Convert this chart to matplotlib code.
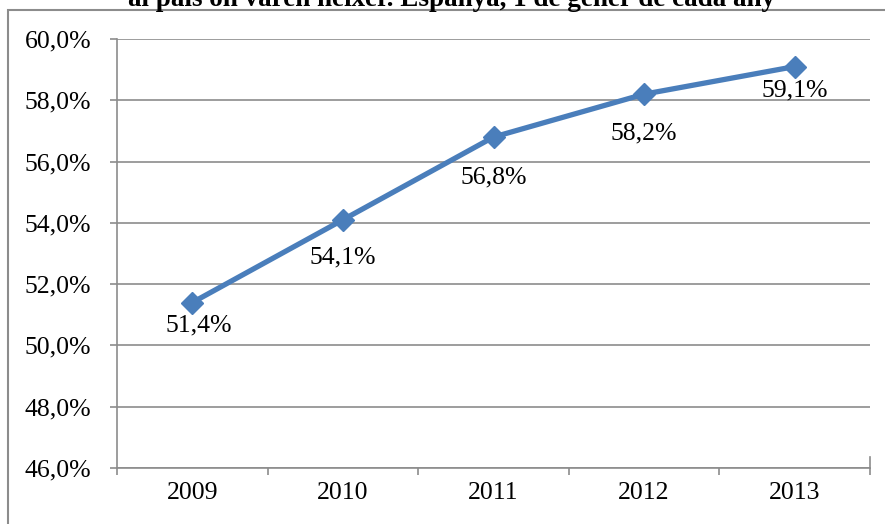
import matplotlib.pyplot as plt
from matplotlib.patches import Rectangle
from matplotlib.ticker import FuncFormatter

years = ['2009', '2010', '2011', '2012', '2013']
values = [51.4, 54.1, 56.8, 58.2, 59.1]
labels = ['51,4%', '54,1%', '56,8%', '58,2%', '59,1%']
title = 'al país on varen néixer. Espanya, 1 de gener de cada any'

# where each data label sits relative to its point (pixels, as placed in the original)
label_offsets = [(6, -23), (0, -38), (0, -40), (0, -39), (0, -24)]

plt.rcParams['font.family'] = ['Liberation Serif', 'DejaVu Serif']

W, H = 885, 524
fig = plt.figure(figsize=(W / 100, H / 100), dpi=100)
ax = fig.add_axes([117 / W, 1 - 468 / H, (870 - 117) / W, (468 - 39) / H])

# outer frame of the chart (runs off the right/bottom edges)
fig.patches.append(Rectangle((8 / W, -0.1), 1.2, 1.1 - 10 / H, transform=fig.transFigure,
                             fill=False, edgecolor='#8c8c8c', linewidth=1.5))

fig.text(452 / W, 1 - 6 / H, title, ha='center', va='baseline',
         fontsize=19.5, fontweight='bold')

x = range(len(years))
ax.plot(x, values, color='#4a7ebb', linewidth=3.8, marker='D', markersize=11.5,
        markerfacecolor='#4a7ebb', markeredgecolor='#4a7ebb', zorder=3)
for i, (v, lab) in enumerate(zip(values, labels)):
    ax.annotate(lab, (i, v), xytext=label_offsets[i], textcoords='offset pixels',
                ha='center', va='center', fontsize=18.5)

ax.set_xlim(-0.5, len(years) - 0.5)
ax.set_ylim(46, 60)
ax.set_yticks([46, 48, 50, 52, 54, 56, 58, 60])
ax.yaxis.set_major_formatter(FuncFormatter(lambda v, p: f'{v:.1f}%'.replace('.', ',')))
ax.set_xticks(list(x))
ax.set_xticklabels(years)
ax.set_xticks([i - 0.5 for i in range(len(years) + 1)], minor=True)
ax.tick_params(axis='x', which='major', length=0, pad=10, labelsize=18.5)
ax.tick_params(axis='x', which='minor', length=5, color='#8c8c8c', width=1.2, direction='out')
ax.tick_params(axis='y', length=5, color='#8c8c8c', width=1.2, pad=13.5, labelsize=18.5)

ax.grid(axis='y', color='#8c8c8c', linewidth=1.2)
ax.set_axisbelow(True)
ax.spines['top'].set_visible(False)
ax.spines['right'].set_bounds(46, 46.35)
for s in ['left', 'bottom', 'right']:
    ax.spines[s].set_color('#8c8c8c')
    ax.spines[s].set_linewidth(1.2)

fig.savefig('out.png', dpi=100)
